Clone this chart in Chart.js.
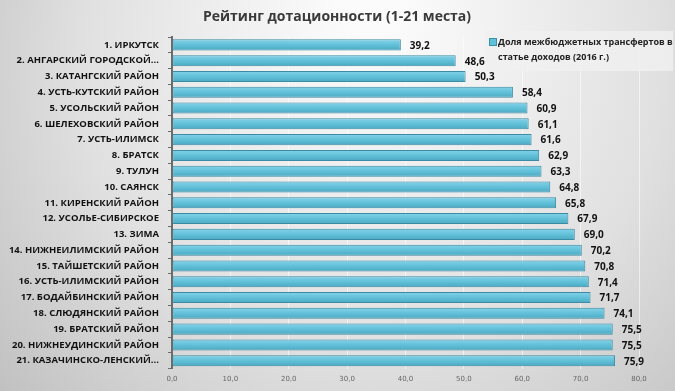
<!DOCTYPE html>
<html>
<head>
<meta charset="utf-8">
<script src="https://cdn.jsdelivr.net/npm/chart.js@4.4.1/dist/chart.umd.min.js"></script>
<style>
  html, body { margin: 0; padding: 0; background: #d6d6d6; }
  #wrap { width: 675px; height: 391px; }
</style>
</head>
<body>
<div id="wrap"><canvas id="myChart" width="675" height="391"></canvas></div>
<script>
const categories = [
    '1. ИРКУТСК',
    '2. АНГАРСКИЙ ГОРОДСКОЙ...',
    '3. КАТАНГСКИЙ РАЙОН',
    '4. УСТЬ-КУТСКИЙ РАЙОН',
    '5. УСОЛЬСКИЙ РАЙОН',
    '6. ШЕЛЕХОВСКИЙ РАЙОН',
    '7. УСТЬ-ИЛИМСК',
    '8. БРАТСК',
    '9. ТУЛУН',
    '10. САЯНСК',
    '11. КИРЕНСКИЙ РАЙОН',
    '12. УСОЛЬЕ-СИБИРСКОЕ',
    '13. ЗИМА',
    '14. НИЖНЕИЛИМСКИЙ РАЙОН',
    '15. ТАЙШЕТСКИЙ РАЙОН',
    '16. УСТЬ-ИЛИМСКИЙ РАЙОН',
    '17. БОДАЙБИНСКИЙ РАЙОН',
    '18. СЛЮДЯНСКИЙ РАЙОН',
    '19. БРАТСКИЙ РАЙОН',
    '20. НИЖНЕУДИНСКИЙ РАЙОН',
    '21. КАЗАЧИНСКО-ЛЕНСКИЙ...'
];
const shares = [39.2, 48.6, 50.3, 58.4, 60.9, 61.1, 61.6, 62.9, 63.3, 64.8, 65.8,
    67.9, 69.0, 70.2, 70.8, 71.4, 71.7, 74.1, 75.5, 75.5, 75.9];
const seriesName = ['Доля межбюджетных трансфертов в', 'статье доходов (2016 г.)'];
const xTicks = [0, 10, 20, 30, 40, 50, 60, 70, 80];
const titleText = 'Рейтинг дотационности (1-21 места)';

const fmt = v => v.toFixed(1).replace('.', ',');

// фон слайда
const bgPlugin = {
    id: 'bg',
    beforeDraw(chart) {
        const c = chart.ctx;
        const w = chart.width, h = chart.height;
        const g = c.createRadialGradient(w * 0.55, 0, 30, w * 0.55, h * 0.3, w * 0.75);
        g.addColorStop(0, '#fbfbfb');
        g.addColorStop(0.55, '#e0e0e0');
        g.addColorStop(1, '#bababa');
        c.save();
        c.fillStyle = g;
        c.fillRect(0, 0, w, h);
        c.restore();
    }
};

// заголовок по центру слайда
const titlePlugin = {
    id: 'slideTitle',
    afterDraw(chart) {
        const c = chart.ctx;
        c.save();
        c.font = 'bold 14px "Open Sans"';
        c.fillStyle = '#3a3a3a';
        c.textAlign = 'center';
        c.textBaseline = 'middle';
        c.fillText(titleText, 337, 17);
        c.restore();
    }
};

// подписи значений справа от полос
const valuePlugin = {
    id: 'values',
    afterDatasetsDraw(chart) {
        const c = chart.ctx;
        const meta = chart.getDatasetMeta(0);
        c.save();
        c.font = 'bold 10px "Open Sans"';
        c.fillStyle = '#111';
        c.textBaseline = 'middle';
        meta.data.forEach((bar, i) => {
            c.fillText(fmt(shares[i]), bar.x + 9, bar.y + 1);
        });
        c.restore();
    }
};

// легенда в правом верхнем углу
const legendPlugin = {
    id: 'boxLegend',
    afterDraw(chart) {
        const c = chart.ctx;
        c.save();
        c.fillStyle = 'rgba(240,240,240,0.85)';
        c.fillRect(486, 31, 187, 40);
        c.fillStyle = '#5fc0da';
        c.strokeStyle = '#3c8ea6';
        c.lineWidth = 1;
        c.fillRect(489.5, 38.5, 7, 7);
        c.strokeRect(489.5, 38.5, 7, 7);
        c.font = 'bold 9px "Open Sans"';
        c.fillStyle = '#222';
        c.textBaseline = 'middle';
        c.fillText(seriesName[0], 498, 42);
        c.fillText(seriesName[1], 498, 57);
        c.restore();
    }
};

// объёмная заливка полосы: светлая сверху, темнее снизу
function barFill(context) {
    const chart = context.chart;
    const y = chart.scales.y;
    if (!chart.chartArea || !y || context.dataIndex === undefined) return '#62c0d9';
    const cy = y.getPixelForValue(context.dataIndex);
    const g = chart.ctx.createLinearGradient(0, cy - 6, 0, cy + 6);
    g.addColorStop(0, '#86d5ea');
    g.addColorStop(0.5, '#62c0d9');
    g.addColorStop(1, '#4aa6bf');
    return g;
}

const ctx = document.getElementById('myChart').getContext('2d');
const chart = new Chart(ctx, {
    type: 'bar',
    data: {
        labels: categories,
        datasets: [{
            label: seriesName.join(' '),
            data: shares,
            backgroundColor: barFill,
            borderColor: '#3a8ba3',
            borderWidth: 1,
            borderSkipped: false,
            categoryPercentage: 1,
            barPercentage: 0.7
        }]
    },
    options: {
        indexAxis: 'y',
        responsive: false,
        animation: false,
        layout: { padding: { left: 0, right: 36, top: 37, bottom: 2 } },
        plugins: {
            legend: { display: false },
            tooltip: { enabled: false },
            title: { display: false }
        },
        scales: {
            x: {
                min: 0,
                max: 80,
                afterBuildTicks: s => { s.ticks = xTicks.map(v => ({ value: v })); },
                ticks: {
                    color: '#666',
                    font: { family: 'DejaVu Sans', size: 7 },
                    padding: 6,
                    callback: v => fmt(v)
                },
                grid: { color: 'rgba(255,255,255,0.55)', drawTicks: false },
                border: { display: false }
            },
            y: {
                afterFit: s => { s.width = 172; },
                ticks: {
                    color: '#111',
                    font: { family: 'Open Sans', size: 9.5, weight: 'bold' },
                    padding: 9
                },
                grid: { drawOnChartArea: false, offset: true, tickLength: 4, color: '#6b6b6b' },
                border: { color: '#6b6b6b', width: 2 }
            }
        }
    },
    plugins: [bgPlugin, valuePlugin, legendPlugin, titlePlugin]
});
</script>
</body>
</html>
